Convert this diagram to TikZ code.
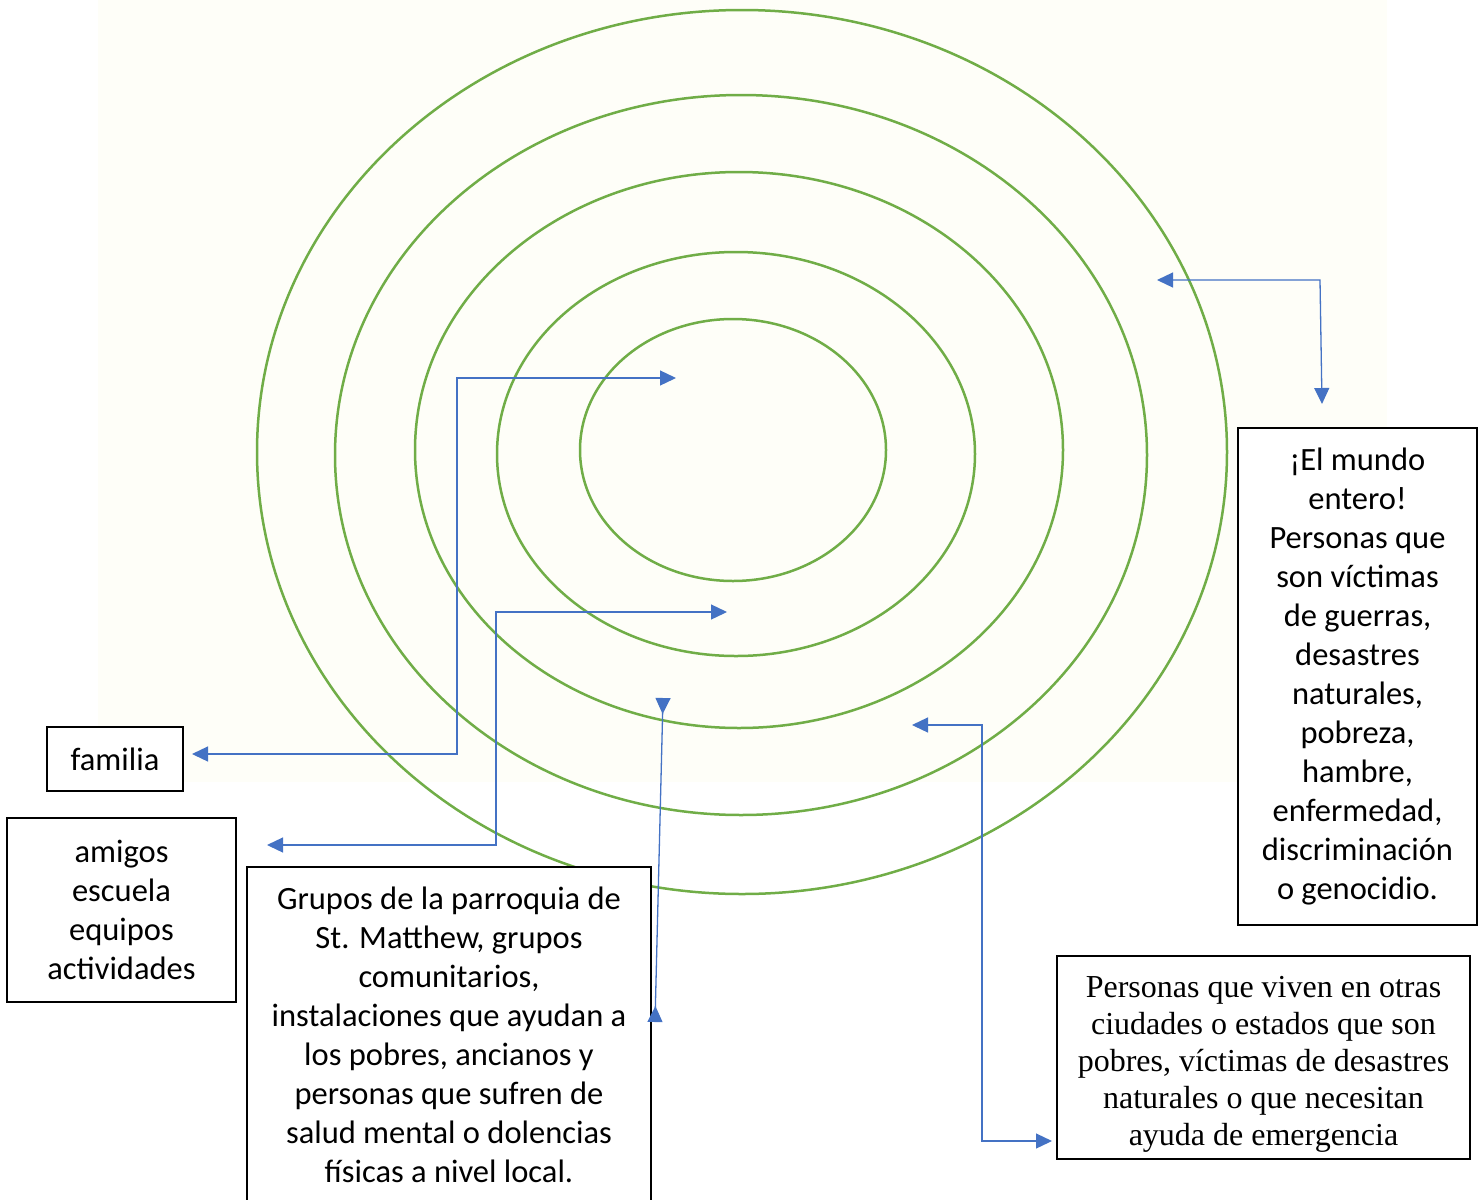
\documentclass[tikz,border=0pt]{standalone}
\usepackage{fontspec}
\setmainfont{Carlito}
\newfontfamily\tnr{Liberation Serif}
\usetikzlibrary{arrows.meta}
\definecolor{ringgreen}{HTML}{70AD47}
\definecolor{arrowblue}{HTML}{4472C4}
\definecolor{cream}{HTML}{FEFEF8}
\begin{document}
\begin{tikzpicture}[x=1pt,y=-1pt,
  ring/.style={draw=ringgreen,line width=2.5pt},
  conn/.style={draw=arrowblue,line width=1.3pt,arrows={Triangle[length=16pt,width=15pt]-Triangle[length=16pt,width=15pt]}},
  connrev/.style={draw=arrowblue,line width=1.3pt,arrows={Triangle[reversed,length=16pt,width=15pt]-Triangle[reversed,length=16pt,width=15pt]}},
  box/.style={draw=black,line width=1.4pt,fill=white,inner sep=0pt,align=center,font=\fontsize{32.5}{39}\selectfont}]
\useasboundingbox (0,0) rectangle (1484,1200);
\fill[cream] (98,0) rectangle (1387,782);
% rings
\draw[ring] (742,452) ellipse [x radius=485, y radius=442];
\draw[ring] (741,455) ellipse [x radius=406, y radius=360];
\draw[ring] (739,450) ellipse [x radius=324, y radius=278];
\draw[ring] (736,454) ellipse [x radius=239, y radius=202];
\draw[ring] (733,450) ellipse [x radius=153, y radius=131];
% boxes
\node[box,minimum width=136pt,minimum height=64pt] (fam) at (115,759) {familia};
\node[box,minimum width=229pt,minimum height=184pt] (ami) at (121.5,910) {amigos\\escuela\\equipos\\actividades};
\node[box,minimum width=404pt,minimum height=336pt] (gru) at (449,1035) {Grupos de la parroquia de\\St. Matthew, grupos\\comunitarios,\\instalaciones que ayudan a\\los pobres, ancianos y\\personas que sufren de\\salud mental o dolencias\\físicas a nivel local.};
\node[box,minimum width=239pt,minimum height=497pt] (mun) at (1357.5,676.5) {¡El mundo\\entero!\\Personas que\\son víctimas\\de guerras,\\desastres\\naturales,\\pobreza,\\hambre,\\enfermedad,\\discriminación\\o genocidio.};
\node[box,minimum width=413pt,minimum height=203pt] (per) at (1263.5,1057.5) {};
\node[align=center,inner sep=0pt,font=\tnr\fontsize{32}{37}\selectfont] (pertext) at ([yshift=-7pt]per.center) {Personas que viven en otras\\ciudades o estados que son\\pobres, víctimas de desastres\\naturales o que necesitan\\ayuda de emergencia};
% connector end points
\coordinate (r5) at (676,378);
\coordinate (famin) at (192,754);
\coordinate (r4) at (727,612);
\coordinate (amiin) at (267,845);
\coordinate (r3) at (663,698);
\coordinate (gruin) at (655,1022);
\coordinate (r1) at (1157,280);
\coordinate (munin) at (1322,404);
\coordinate (r2) at (912,725);
\coordinate (perin) at (1052,1141);
% connectors
\draw[conn] (r5) -- (457,378) -- (457,754) -- (famin);
\draw[conn] (r4) -- (496,612) -- (496,845) -- (amiin);
\draw[connrev] (r3) -- (gruin);
\draw[conn] (r1) -- (1320,280) -- (munin);
\draw[conn] (r2) -- (982,725) -- (982,1141) -- (perin);
\end{tikzpicture}
\end{document}
